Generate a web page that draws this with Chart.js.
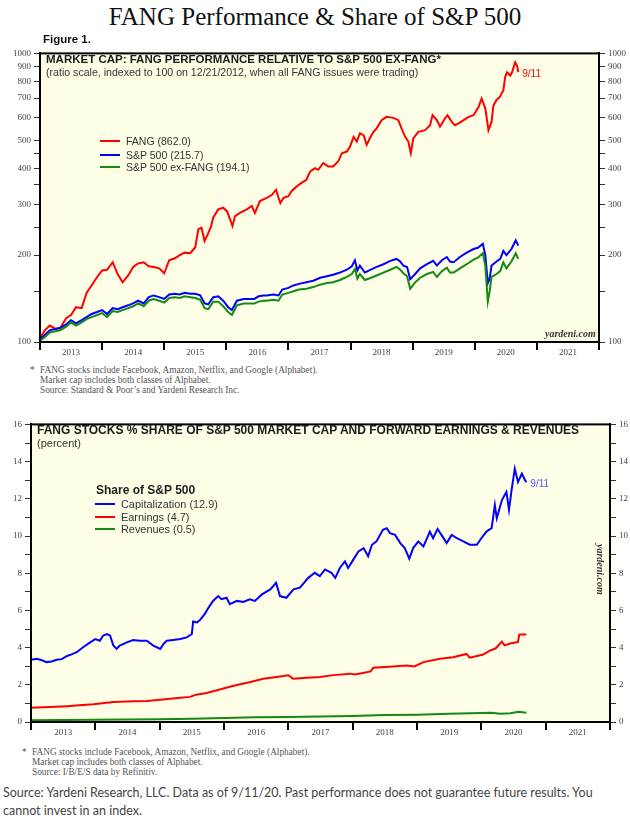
<!DOCTYPE html>
<html>
<head>
<meta charset="utf-8">
<title>FANG Performance &amp; Share of S&amp;P 500</title>
<script src="https://cdn.jsdelivr.net/npm/chart.js@4.4.0/dist/chart.umd.min.js"></script>
<style>
  body { margin: 0; background: #fff; }
  #page { position: relative; width: 630px; height: 828px; overflow: hidden; font-family: "Liberation Sans", Arial, sans-serif; color: #222; }
  canvas { position: absolute; left: 0; }
  .txt { position: absolute; white-space: nowrap; z-index: 2; }
  .main-title { left: 0; top: 3px; width: 630px; text-align: center; font: 25px "Liberation Serif", serif; color: #111; }
  .fig { left: 43px; top: 33px; font-weight: bold; font-size: 11.5px; color: #111; }
  .ptitle { font-weight: bold; font-size: 11.5px; color: #1a1a1a; }
  .psub { font-size: 10.6px; color: #333; }
  .leg { font-size: 10.5px; color: #333; line-height: 12px; }
  .leg i { display: inline-block; width: 20px; height: 2px; vertical-align: middle; margin-right: 6px; position: relative; top: -1px; }
  .leg-head { font-weight: bold; font-size: 12px; color: #222; }
  .brand { font: italic bold 10px "Liberation Serif", serif; color: #333; }
  .foot { font: 9.3px/10px "Liberation Serif", serif; color: #555; }
  .source { left: 3px; top: 784px; font: 12.5px/18px Lato, "Open Sans", sans-serif; color: #444; }
</style>
</head>
<body>
<div id="page">
  <div class="txt main-title">FANG Performance &amp; Share of S&amp;P 500</div>
  <div class="txt fig">Figure 1.</div>

  <canvas id="capChart" width="630" height="318" style="top:45px"></canvas>
  <div class="txt ptitle" style="left:46px; top:53px">MARKET CAP: FANG PERFORMANCE RELATIVE TO S&amp;P 500 EX-FANG*</div>
  <div class="txt psub" style="left:46px; top:66px">(ratio scale, indexed to 100 on 12/21/2012, when all FANG issues were trading)</div>
  <div class="txt leg" style="left:100px; top:135px"><i style="background:#ff0000"></i>FANG (862.0)</div>
  <div class="txt leg" style="left:100px; top:149px"><i style="background:#0000ff"></i>S&amp;P 500 (215.7)</div>
  <div class="txt leg" style="left:100px; top:161px"><i style="background:#138a13"></i>S&amp;P 500 ex-FANG (194.1)</div>
  <div class="txt brand" style="left:545px; top:328px">yardeni.com</div>
  <div class="txt foot" style="left:30px; top:365px">*</div>
  <div class="txt foot" style="left:40px; top:365px">FANG stocks include Facebook, Amazon, Netflix, and Google (Alphabet).<br>Market cap includes both classes of Alphabet.<br>Source: Standard &amp; Poor’s and Yardeni Research Inc.</div>

  <canvas id="shareChart" width="630" height="322" style="top:416px"></canvas>
  <div class="txt ptitle" style="left:37px; top:423px; font-size:12px">FANG STOCKS % SHARE OF S&amp;P 500 MARKET CAP AND FORWARD EARNINGS &amp; REVENUES</div>
  <div class="txt psub" style="left:37px; top:437px; font-size:11px">(percent)</div>
  <div class="txt leg-head" style="left:96px; top:483px">Share of S&amp;P 500</div>
  <div class="txt leg" style="left:95px; top:498px; font-size:10.9px"><i style="background:#0000ff"></i>Capitalization (12.9)</div>
  <div class="txt leg" style="left:95px; top:511px; font-size:10.9px"><i style="background:#ff0000"></i>Earnings (4.7)</div>
  <div class="txt leg" style="left:95px; top:523px; font-size:10.9px"><i style="background:#138a13"></i>Revenues (0.5)</div>
  <div class="txt brand" style="left:573px; top:565px; transform:rotate(90deg); transform-origin:27px 6px">yardeni.com</div>
  <div class="txt foot" style="left:22px; top:747px">*</div>
  <div class="txt foot" style="left:32px; top:747px">FANG stocks include Facebook, Amazon, Netflix, and Google (Alphabet).<br>Market cap includes both classes of Alphabet.<br>Source: I/B/E/S data by Refinitiv.</div>

  <div class="txt source">Source: Yardeni Research, LLC. Data as of 9/11/20. Past performance does not guarantee future results. You<br>cannot invest in an index.</div>
</div>

<script>
// ---- data (dates are decimal years) ----
// top panel: market cap indexes, 12/21/2012 = 100
const fangDates = [
  2013.00, 2013.08, 2013.16, 2013.25, 2013.33, 2013.42, 2013.50, 2013.58, 2013.67, 2013.75,
  2013.83, 2013.92, 2014.00, 2014.08, 2014.17, 2014.25, 2014.33, 2014.42, 2014.50, 2014.58,
  2014.67, 2014.75, 2014.83, 2014.92, 2015.00, 2015.08, 2015.17, 2015.25, 2015.33, 2015.42,
  2015.50, 2015.55, 2015.60, 2015.65, 2015.70, 2015.75, 2015.79, 2015.87, 2015.95, 2016.01,
  2016.06, 2016.10, 2016.14, 2016.22, 2016.33, 2016.41, 2016.46, 2016.54, 2016.65, 2016.73,
  2016.80, 2016.84, 2016.87, 2016.92, 2017.00, 2017.05, 2017.13, 2017.21, 2017.29, 2017.35,
  2017.43, 2017.48, 2017.56, 2017.64, 2017.72, 2017.80, 2017.86, 2017.94, 2017.99, 2018.05,
  2018.10, 2018.15, 2018.21, 2018.26, 2018.31, 2018.37, 2018.42, 2018.50, 2018.58, 2018.69,
  2018.77, 2018.82, 2018.88, 2018.93, 2018.97, 2019.01, 2019.09, 2019.20, 2019.28, 2019.32,
  2019.39, 2019.44, 2019.52, 2019.56, 2019.63, 2019.68, 2019.74, 2019.82, 2019.90, 2019.98,
  2020.06, 2020.11, 2020.17, 2020.22, 2020.27, 2020.30, 2020.35, 2020.40, 2020.46, 2020.49,
  2020.52, 2020.57, 2020.60, 2020.65, 2020.68, 2020.70
];
const fangValues = [
  103, 110, 114, 111, 112, 121, 124, 132, 131, 148,
  157, 168, 177, 178, 189, 172, 161, 170, 182, 187,
  189, 183, 182, 180, 173, 192, 195, 200, 204, 203,
  213, 246, 249, 224, 236, 250, 270, 288, 292, 284,
  266, 252, 273, 280, 288, 296, 280, 308, 316, 323,
  337, 316, 303, 316, 320, 333, 346, 356, 365, 390,
  400, 395, 417, 406, 406, 422, 451, 457, 475, 514,
  495, 528, 521, 482, 508, 535, 550, 587, 603, 598,
  587, 550, 514, 495, 451, 508, 535, 542, 564, 611,
  587, 557, 595, 611, 579, 564, 572, 587, 603, 611,
  652, 697, 644, 542, 579, 660, 690, 705, 744, 830,
  860, 838, 860, 931, 907, 862.0
];
const spxDates = [
  2013.00, 2013.08, 2013.16, 2013.25, 2013.33, 2013.42, 2013.50, 2013.58, 2013.67, 2013.75,
  2013.83, 2013.92, 2014.00, 2014.08, 2014.17, 2014.25, 2014.33, 2014.42, 2014.50, 2014.58,
  2014.67, 2014.75, 2014.83, 2014.92, 2015.00, 2015.08, 2015.17, 2015.25, 2015.33, 2015.42,
  2015.50, 2015.58, 2015.65, 2015.71, 2015.79, 2015.87, 2015.95, 2016.03, 2016.09, 2016.17,
  2016.28, 2016.38, 2016.45, 2016.52, 2016.60, 2016.65, 2016.76, 2016.84, 2016.90, 2017.00,
  2017.08, 2017.17, 2017.29, 2017.40, 2017.51, 2017.62, 2017.72, 2017.83, 2017.94, 2018.02,
  2018.07, 2018.11, 2018.15, 2018.23, 2018.30, 2018.42, 2018.53, 2018.64, 2018.74, 2018.80,
  2018.85, 2018.91, 2018.96, 2019.04, 2019.12, 2019.23, 2019.33, 2019.39, 2019.47, 2019.55,
  2019.60, 2019.66, 2019.76, 2019.87, 2019.98, 2020.05, 2020.13, 2020.17, 2020.21, 2020.24,
  2020.27, 2020.35, 2020.41, 2020.46, 2020.51, 2020.59, 2020.66, 2020.70
];
const spxValues = [
  102, 106, 110, 111, 112, 115, 119, 116, 119, 122,
  125, 127, 129, 125, 131, 130, 132, 134, 136, 139,
  136, 143, 145, 143, 141, 146, 147, 146, 148, 147,
  147, 145, 136, 135, 143, 144, 139, 132, 129, 139,
  141, 141, 141, 144, 145, 145, 146, 145, 152, 154,
  157, 159, 161, 163, 167, 169, 171, 174, 178, 183,
  192, 177, 184, 174, 177, 182, 186, 191, 194, 190,
  184, 182, 165, 172, 180, 186, 191, 184, 192, 197,
  190, 189, 197, 204, 210, 212, 219, 200, 160, 166,
  184, 190, 194, 207, 200, 210, 225, 215.7
];
const exFangValues = [
  101, 104, 108, 109, 110, 113, 117, 114, 117, 120,
  122, 124, 126, 122, 128, 127, 129, 131, 133, 136,
  133, 139, 141, 139, 137, 142, 143, 142, 144, 143,
  142, 140, 131, 130, 138, 138, 133, 127, 124, 134,
  136, 136, 136, 138, 139, 139, 140, 139, 146, 148,
  150, 152, 153, 155, 158, 160, 161, 164, 168, 172,
  179, 166, 172, 164, 166, 170, 174, 178, 182, 178,
  173, 169, 153, 161, 167, 172, 175, 168, 176, 181,
  174, 174, 180, 186, 193, 196, 203, 184, 138, 150,
  168, 172, 176, 189, 180, 190, 203, 194.1
];

// bottom panel: FANG % share of S&P 500
const capDates = [
  2013.00, 2013.09, 2013.17, 2013.24, 2013.32, 2013.40, 2013.48, 2013.56, 2013.64, 2013.71,
  2013.81, 2013.92, 2014.00, 2014.07, 2014.12, 2014.18, 2014.23, 2014.28, 2014.33, 2014.38,
  2014.49, 2014.59, 2014.69, 2014.80, 2014.90, 2015.01, 2015.06, 2015.11, 2015.21, 2015.32,
  2015.42, 2015.50, 2015.52, 2015.58, 2015.63, 2015.70, 2015.76, 2015.83, 2015.91, 2015.96,
  2016.04, 2016.09, 2016.20, 2016.30, 2016.40, 2016.48, 2016.59, 2016.72, 2016.81, 2016.87,
  2016.97, 2017.08, 2017.18, 2017.31, 2017.41, 2017.49, 2017.57, 2017.67, 2017.73, 2017.80,
  2017.88, 2017.93, 2018.01, 2018.09, 2018.17, 2018.24, 2018.30, 2018.37, 2018.47, 2018.53,
  2018.58, 2018.66, 2018.74, 2018.81, 2018.88, 2018.94, 2019.02, 2019.10, 2019.20, 2019.25,
  2019.32, 2019.38, 2019.46, 2019.54, 2019.62, 2019.72, 2019.82, 2019.93, 2020.00, 2020.08,
  2020.16, 2020.21, 2020.24, 2020.32, 2020.39, 2020.43, 2020.47, 2020.52, 2020.57, 2020.63,
  2020.68, 2020.70
];
const capValues = [
  3.35, 3.40, 3.32, 3.22, 3.25, 3.35, 3.38, 3.55, 3.65, 3.75,
  4.02, 4.28, 4.46, 4.37, 4.64, 4.73, 4.64, 4.11, 3.93, 4.11,
  4.28, 4.41, 4.37, 4.37, 4.11, 3.93, 4.20, 4.37, 4.41, 4.46,
  4.55, 4.73, 5.40, 5.35, 5.50, 5.80, 6.15, 6.51, 6.77, 6.60,
  6.68, 6.33, 6.51, 6.45, 6.60, 6.51, 6.86, 7.13, 7.48, 6.77,
  6.68, 7.13, 7.22, 7.75, 8.02, 7.84, 8.20, 8.02, 7.75, 8.28,
  8.64, 8.28, 8.73, 9.17, 9.35, 8.91, 9.53, 9.71, 10.33, 10.42,
  10.15, 10.06, 9.62, 9.35, 8.78, 9.35, 9.71, 9.44, 10.24, 9.88,
  10.38, 10.06, 9.62, 10.06, 9.88, 9.71, 9.53, 9.53, 9.88, 10.24,
  10.42, 11.66, 10.95, 11.93, 12.37, 11.40, 12.46, 13.62, 12.90, 13.35,
  13.00, 12.9
];
const earnDates = [
  2013.00, 2013.30, 2013.56, 2013.75, 2013.97, 2014.28, 2014.59, 2014.80, 2015.01, 2015.32,
  2015.47, 2015.57, 2015.73, 2015.89, 2016.15, 2016.41, 2016.61, 2016.82, 2017.00, 2017.07,
  2017.29, 2017.49, 2017.70, 2017.96, 2018.04, 2018.28, 2018.32, 2018.63, 2018.84, 2018.96,
  2019.10, 2019.36, 2019.56, 2019.77, 2019.82, 2020.03, 2020.13, 2020.22, 2020.32, 2020.36,
  2020.45, 2020.57, 2020.59, 2020.70
];
const earnValues = [
  0.76, 0.80, 0.85, 0.90, 0.96, 1.08, 1.12, 1.13, 1.20, 1.30,
  1.35, 1.47, 1.56, 1.71, 1.95, 2.15, 2.33, 2.42, 2.51, 2.33,
  2.38, 2.42, 2.52, 2.60, 2.55, 2.72, 2.92, 2.99, 3.04, 2.99,
  3.22, 3.40, 3.48, 3.66, 3.46, 3.63, 3.84, 3.95, 4.32, 4.12,
  4.22, 4.30, 4.70, 4.7
];
const revDates = [
  2013.00, 2013.50, 2014.00, 2014.50, 2015.00, 2015.50, 2016.00, 2016.50, 2017.00, 2017.50,
  2018.00, 2018.50, 2019.00, 2019.50, 2020.00, 2020.15, 2020.30, 2020.45, 2020.58, 2020.70
];
const revValues = [
  0.10, 0.11, 0.12, 0.13, 0.15, 0.18, 0.22, 0.26, 0.27, 0.29,
  0.32, 0.37, 0.39, 0.44, 0.48, 0.50, 0.45, 0.47, 0.55, 0.5
];

// axis ticks
const yearTicks = [2013, 2013.5, 2014, 2014.5, 2015, 2015.5, 2016, 2016.5, 2017, 2017.5,
  2018, 2018.5, 2019, 2019.5, 2020, 2020.5, 2021, 2021.5, 2022];
const logTicks = [100, 150, 200, 250, 300, 350, 400, 450, 500, 600, 700, 800, 900, 1000];
const logLabels = [100, 200, 300, 400, 500, 600, 700, 800, 900, 1000];
const pctTicks = [0, 1, 2, 3, 4, 5, 6, 7, 8, 9, 10, 11, 12, 13, 14, 15, 16];
const pctLabels = [0, 2, 4, 6, 8, 10, 12, 14, 16];

const RED = '#ff0000';
const BLUE = '#0000ff';
const GREEN = '#138a13';
const PANEL_BG = '#fffee6';
const tickFont = { family: 'Liberation Serif', size: 9 };
const tickColor = '#444';

function pairs(xs, ys) {
  return xs.map((x, i) => ({ x: x, y: ys[i] }));
}

// yellow panel + black frame, plus the "9/11" end label
const panelPlugin = {
  id: 'panel',
  beforeDraw(chart) {
    const a = chart.chartArea;
    const ctx = chart.ctx;
    ctx.save();
    ctx.fillStyle = PANEL_BG;
    ctx.fillRect(a.left, a.top, a.right - a.left, a.bottom - a.top);
    ctx.restore();
  },
  afterDraw(chart, args, opts) {
    const a = chart.chartArea;
    const ctx = chart.ctx;
    ctx.save();
    ctx.strokeStyle = '#000';
    ctx.lineWidth = 2;
    ctx.strokeRect(a.left, a.top, a.right - a.left, a.bottom - a.top);
    if (opts.endLabel) {
      const meta = chart.getDatasetMeta(opts.endLabel.dataset);
      const last = meta.data[meta.data.length - 1];
      ctx.font = '10px "Liberation Sans", Arial, sans-serif';
      ctx.fillStyle = opts.endLabel.color;
      ctx.textBaseline = 'middle';
      ctx.fillText(opts.endLabel.text, last.x + 4, last.y + 2);
    }
    ctx.restore();
  }
};

function xAxis(height) {
  return {
    type: 'linear',
    min: 2013,
    max: 2022,
    afterBuildTicks: (s) => { s.ticks = yearTicks.map(v => ({ value: v })); },
    afterFit: (s) => { s.height = height; },
    ticks: {
      autoSkip: false,
      maxRotation: 0,
      padding: -3,
      font: tickFont,
      color: tickColor,
      callback: (v) => (v % 1 ? String(Math.floor(v)) : '')
    },
    grid: {
      drawOnChartArea: false,
      tickLength: 8,
      lineWidth: 2,
      color: (c) => (c.tick && c.tick.value % 1 === 0 ? '#000' : 'rgba(0,0,0,0)')
    },
    border: { display: true, color: '#000', width: 2 }
  };
}

function yAxis(side, width, base) {
  return Object.assign({
    position: side,
    afterFit: (s) => { s.width = width; },
    grid: { drawOnChartArea: false, tickLength: 6, color: '#333', lineWidth: 1 },
    border: { display: true, color: '#000', width: 2 }
  }, base);
}

function logBase() {
  return {
    type: 'logarithmic',
    min: 100,
    max: 1000,
    afterBuildTicks: (s) => { s.ticks = logTicks.map(v => ({ value: v })); },
    ticks: {
      autoSkip: false,
      padding: 3,
      font: tickFont,
      color: tickColor,
      callback: (v) => (logLabels.includes(v) ? String(v) : '')
    }
  };
}

function pctBase() {
  return {
    type: 'linear',
    min: 0,
    max: 16,
    afterBuildTicks: (s) => { s.ticks = pctTicks.map(v => ({ value: v })); },
    ticks: {
      autoSkip: false,
      padding: 3,
      font: tickFont,
      color: tickColor,
      callback: (v) => (pctLabels.includes(v) ? String(v) : '')
    }
  };
}

function lineSet(label, data, color) {
  return {
    label: label,
    data: data,
    borderColor: color,
    backgroundColor: color,
    borderWidth: 2,
    pointRadius: 0,
    tension: 0,
    fill: false
  };
}

const commonOptions = {
  responsive: false,
  animation: false,
  devicePixelRatio: 1,
  parsing: true,
  events: []
};

new Chart(document.getElementById('capChart'), {
  type: 'line',
  data: {
    datasets: [
      lineSet('S&P 500 ex-FANG', pairs(spxDates, exFangValues), GREEN),
      lineSet('S&P 500', pairs(spxDates, spxValues), BLUE),
      lineSet('FANG', pairs(fangDates, fangValues), RED)
    ]
  },
  options: Object.assign({}, commonOptions, {
    layout: { padding: { top: 6, left: 0, right: 0, bottom: 0 } },
    scales: {
      x: xAxis(21),
      y: yAxis('left', 40, logBase()),
      y2: yAxis('right', 31, logBase())
    },
    plugins: {
      legend: { display: false },
      tooltip: { enabled: false },
      panel: { endLabel: { dataset: 2, text: '9/11', color: RED } }
    }
  }),
  plugins: [panelPlugin]
});

new Chart(document.getElementById('shareChart'), {
  type: 'line',
  data: {
    datasets: [
      lineSet('Revenues', pairs(revDates, revValues), GREEN),
      lineSet('Earnings', pairs(earnDates, earnValues), RED),
      lineSet('Capitalization', pairs(capDates, capValues), BLUE)
    ]
  },
  options: Object.assign({}, commonOptions, {
    layout: { padding: { top: 6, left: 0, right: 0, bottom: 0 } },
    scales: {
      x: xAxis(16),
      y: yAxis('left', 31, pctBase()),
      y2: yAxis('right', 20, pctBase())
    },
    plugins: {
      legend: { display: false },
      tooltip: { enabled: false },
      panel: { endLabel: { dataset: 2, text: '9/11', color: '#5555ff' } }
    }
  }),
  plugins: [panelPlugin]
});
</script>
</body>
</html>
